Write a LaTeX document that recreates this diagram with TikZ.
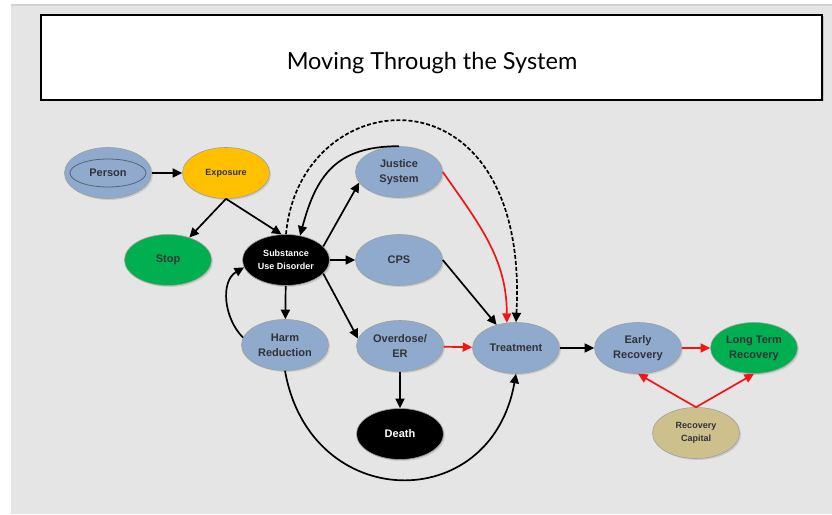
\documentclass[tikz,border=0pt]{standalone}
\usepackage{fontspec}
\setmainfont{Liberation Sans}
\newfontfamily\titlefont{Lato}
\usepackage{tikz}
\usetikzlibrary{arrows.meta,shapes,positioning,shadows,calc}
\usepackage{xcolor}
\definecolor{sysblue}{RGB}{143,170,205}
\definecolor{sysgold}{RGB}{255,192,0}
\definecolor{sysgreen}{RGB}{0,176,80}
\definecolor{systan}{RGB}{206,192,140}
\definecolor{sysbg}{RGB}{229,229,229}
\definecolor{systext}{RGB}{50,50,55}
\definecolor{sysred}{RGB}{245,20,20}
\tikzstyle{state} = [ellipse, minimum width=87pt, minimum height=51pt, inner sep=0pt, align=center,
  draw=gray!75, line width=0.6pt, text=systext, font=\bfseries\fontsize{11}{15}\selectfont,
  drop shadow={opacity=0.25, shadow xshift=1.5pt, shadow yshift=-1.5pt}]
\tikzstyle{small} = [font=\bfseries\fontsize{9}{13}\selectfont]
\tikzstyle{arrow} = [line width=1.7pt,->,>={Triangle[length=9.5pt,width=9pt]}]
\tikzstyle{redarrow} = [arrow, color=sysred]

\begin{document}
\begin{tikzpicture}[x=1pt, y=1pt]
    % Page and background
    \useasboundingbox (0,0) rectangle (832,514);
    \fill[white] (0,0) rectangle (832,514);
    \fill[sysbg] (11,0) rectangle (832,510);
    \draw[gray!35, line width=2pt] (11,509) -- (832,509);

    % Title
    \node[draw, line width=1.6pt, fill=white, minimum width=781pt, minimum height=85pt,
      drop shadow={opacity=0.35, shadow xshift=1.5pt, shadow yshift=-1.5pt}] (titlebox) at (431.5,456.5) {};
    \node[font=\titlefont\fontsize{23.5}{26}\selectfont] (title) at (432,451.5) {Moving Through the System};

    % Entry
    \node[state, fill=sysblue] (person) at (108,341) {Person};
    \draw[systext!60!sysblue, line width=0.8pt] (person.center) ellipse (38pt and 14pt);
    \node[state, small, fill=sysgold] (exposure) at (226,341) {Exposure};
    \node[state, fill=sysgreen] (stop) at (168,254) {Stop};
    \node[state, small, fill=black, text=white] (sud) at (286,254) {Substance\\Use Disorder};

    % Systems
    \node[state, fill=sysblue] (justice) at (399,342) {Justice\\System};
    \node[state, fill=sysblue] (cps) at (399,254) {CPS};
    \node[state, fill=sysblue] (harm) at (285,169) {Harm\\Reduction};
    \node[state, fill=sysblue] (overdose) at (400,168) {Overdose/\\ER};
    \node[state, fill=black, text=white] (death) at (400,80) {Death};
    \node[state, fill=sysblue] (treatment) at (516,166) {Treatment};

    % Recovery
    \node[state, fill=sysblue] (early) at (638,166) {Early\\Recovery};
    \node[state, fill=sysgreen] (longterm) at (754,166) {Long Term\\Recovery};
    \node[state, small, fill=systan] (capital) at (696,81) {Recovery\\Capital};

    % Connectors
    \draw[arrow] (person) -- (exposure);
    \draw[arrow] (exposure.south) -- (stop);
    \draw[arrow] (exposure.south) -- (sud.100);
    \draw[arrow] (sud) -- (cps);
    \draw[arrow] (sud) -- (harm);
    \draw[arrow] (sud.20) -- (justice.195);
    \draw[arrow] (sud.-20) -- (overdose.170);
    \draw[arrow] (justice.north) to[out=180, in=75, looseness=1.2] (sud.60);
    \draw[arrow, dash pattern=on 4pt off 2pt] (sud.north) .. controls (300,434) and (530,454) .. (treatment.north);
    \draw[redarrow] (justice.east) to[out=-55, in=90] (treatment.110);
    \draw[arrow] (cps.east) -- (treatment.130);
    \draw[redarrow] (overdose) -- (treatment);
    \draw[arrow] (overdose) -- (death);
    \draw[arrow] (harm.170) to[out=135, in=210] (sud.190);
    \draw[arrow] (harm.south) to[out=-80, in=-100, looseness=1.6] (treatment.south);
    \draw[arrow] (treatment) -- (early);
    \draw[redarrow] (early) -- (longterm);
    \draw[redarrow] (capital.north) -- (early.south);
    \draw[redarrow] (capital.north) -- (longterm.south);
\end{tikzpicture}
\end{document}
